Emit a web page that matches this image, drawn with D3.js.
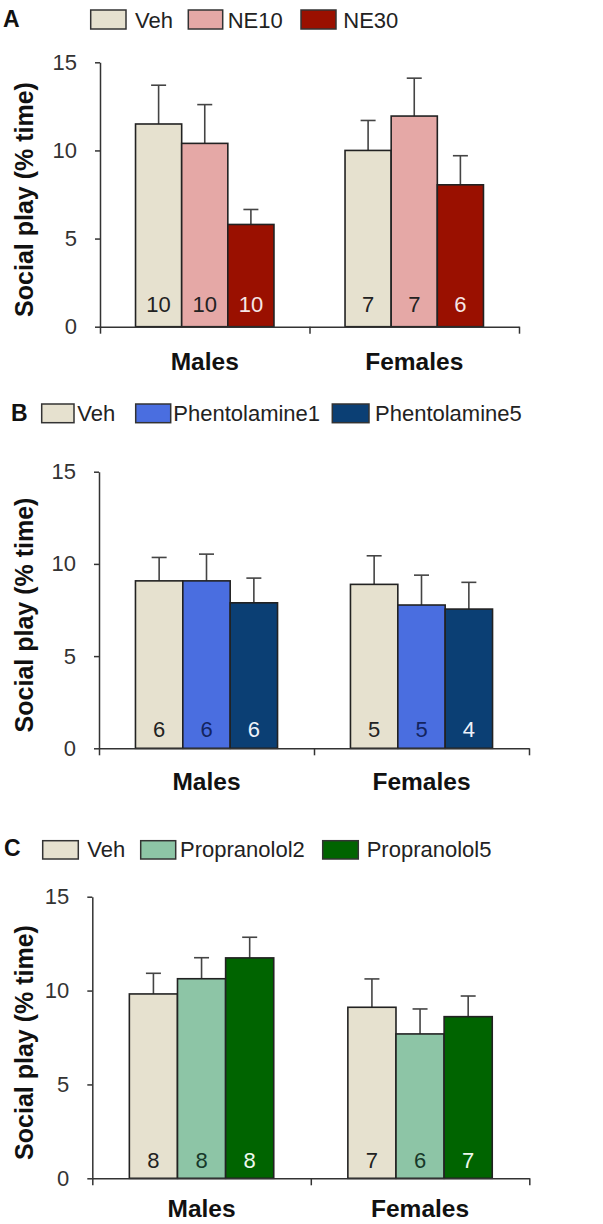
<!DOCTYPE html>
<html>
<head>
<meta charset="utf-8">
<script src="https://cdn.jsdelivr.net/npm/d3@7"></script>
<style>
  body { margin: 0; background: #fff; }
  svg { display: block; font-family: "Liberation Sans", Arial, sans-serif; }
</style>
</head>
<body>
<div id="chart"></div>
<script>
// ---- data ----
const groups = ["Males", "Females"];
const yTicks = [0, 5, 10, 15];

const seriesA = ["Veh", "NE10", "NE30"];
const meanA = [[11.5, 10.4, 5.8], [10.0, 11.95, 8.05]];
const semA = [[2.2, 2.2, 0.85], [1.7, 2.15, 1.65]];
const nA = [[10, 10, 10], [7, 7, 6]];

const seriesB = ["Veh", "Phentolamine1", "Phentolamine5"];
const meanB = [[9.08, 9.08, 7.89], [8.89, 7.77, 7.55]];
const semB = [[1.27, 1.45, 1.34], [1.55, 1.62, 1.45]];
const nB = [[6, 6, 6], [5, 5, 4]];

const seriesC = ["Veh", "Propranolol2", "Propranolol5"];
const meanC = [[9.82, 10.63, 11.74], [9.11, 7.69, 8.61]];
const semC = [[1.1, 1.12, 1.1], [1.51, 1.33, 1.1]];
const nC = [[8, 8, 8], [7, 6, 7]];

// ---- layout / styles per panel ----
const panels = [
  { letter: "A", series: seriesA, mean: meanA, sem: semA, n: nA,
    fills: ["#e6e1cf", "#e5a8a6", "#9a1000"], countFill: ["#222", "#222", "#f6e6e6"],
    x0: 100, x1: 519, yTop: 62.3, y0: 326.7, countOff: 15, grpOff: 43,
    letterX: 3, letterY: 27, legY: 10, legH: 19, legBase: 27.5,
    boxX: [90.7, 188.3, 301], boxW: [35.3, 34.4, 35], textX: [135, 227.7, 343.3] },
  { letter: "B", series: seriesB, mean: meanB, sem: semB, n: nB,
    fills: ["#e6e1cf", "#4a6ee0", "#0b3f74"], countFill: ["#222", "#13245e", "#eef2fa"],
    x0: 99, x1: 529, yTop: 471.7, y0: 748.3, countOff: 11.5, grpOff: 42,
    letterX: 11, letterY: 421, legY: 404, legH: 18.7, legBase: 421,
    boxX: [41.7, 135.7, 332.3], boxW: [32.3, 35, 36.7], textX: [77.3, 173.3, 375] },
  { letter: "C", series: seriesC, mean: meanC, sem: semC, n: nC,
    fills: ["#e6e1cf", "#8dc5a6", "#006400"], countFill: ["#222", "#17382a", "#eef8ee"],
    x0: 92.3, x1: 529.3, yTop: 896.7, y0: 1178.3, countOff: 10.5, grpOff: 39,
    letterX: 4, letterY: 856, legY: 840.7, legH: 18.3, legBase: 857,
    boxX: [42.7, 140.7, 322.7], boxW: [35.6, 35, 35.6], textX: [87.3, 180, 366.7] }
];

const W = 603, H = 1224;
const svg = d3.select("#chart").append("svg")
  .attr("width", W)
  .attr("height", H);

panels.forEach(function(p) {
  const g = svg.append("g");

  // scales
  const x = d3.scaleBand().domain(groups).range([p.x0, p.x1]).padding(0);
  const xs = d3.scaleBand().domain(p.series).range([0, x.bandwidth()])
    .paddingInner(0).paddingOuter(0.77);
  const y = d3.scaleLinear().domain([0, 15]).range([p.y0, p.yTop]);

  // panel letter
  g.append("text")
    .attr("x", p.letterX)
    .attr("y", p.letterY)
    .style("font-size", "23px")
    .style("font-weight", "bold")
    .attr("fill", "#111")
    .text(p.letter);

  // legend
  const leg = g.selectAll(".legend-item")
    .data(p.series)
    .enter()
    .append("g")
    .attr("class", "legend-item");

  leg.append("rect")
    .attr("x", (d, i) => p.boxX[i])
    .attr("y", p.legY)
    .attr("width", (d, i) => p.boxW[i])
    .attr("height", p.legH)
    .attr("fill", (d, i) => p.fills[i])
    .attr("stroke", "#333")
    .attr("stroke-width", 1.5);

  leg.append("text")
    .attr("x", (d, i) => p.textX[i])
    .attr("y", p.legBase)
    .style("font-size", "22px")
    .attr("fill", "#222")
    .text(d => d);

  // bars
  const rows = [];
  groups.forEach(function(grp, gi) {
    p.series.forEach(function(s, si) {
      rows.push({ grp: grp, s: s, si: si, mean: p.mean[gi][si], sem: p.sem[gi][si], n: p.n[gi][si] });
    });
  });

  const bx = d => x(d.grp) + xs(d.s);

  // error bars (behind bars)
  g.append("g").selectAll("line.err")
    .data(rows)
    .enter()
    .append("line")
    .attr("x1", d => bx(d) + xs.bandwidth() / 2)
    .attr("x2", d => bx(d) + xs.bandwidth() / 2)
    .attr("y1", d => y(d.mean))
    .attr("y2", d => y(d.mean + d.sem))
    .attr("stroke", "#444")
    .attr("stroke-width", 1.6);

  g.append("g").selectAll("line.cap")
    .data(rows)
    .enter()
    .append("line")
    .attr("x1", d => bx(d) + xs.bandwidth() / 2 - 7.5)
    .attr("x2", d => bx(d) + xs.bandwidth() / 2 + 7.5)
    .attr("y1", d => y(d.mean + d.sem))
    .attr("y2", d => y(d.mean + d.sem))
    .attr("stroke", "#444")
    .attr("stroke-width", 1.6);

  g.append("g").selectAll("rect")
    .data(rows)
    .enter()
    .append("rect")
    .attr("x", bx)
    .attr("y", d => y(d.mean))
    .attr("width", xs.bandwidth())
    .attr("height", d => y(0) - y(d.mean))
    .attr("fill", d => p.fills[d.si])
    .attr("stroke", "#222")
    .attr("stroke-width", 1.6);

  // n labels inside bars
  g.append("g").selectAll("text")
    .data(rows)
    .enter()
    .append("text")
    .attr("x", d => bx(d) + xs.bandwidth() / 2)
    .attr("y", p.y0 - p.countOff)
    .attr("text-anchor", "middle")
    .style("font-size", "22px")
    .attr("fill", d => p.countFill[d.si])
    .text(d => d.n);

  // y axis
  const yAxis = g.append("g")
    .attr("transform", "translate(" + p.x0 + ",0)")
    .call(d3.axisLeft(y).tickValues(yTicks).tickSize(5).tickSizeOuter(0).tickPadding(18));
  yAxis.select(".domain").attr("stroke", "#333").attr("stroke-width", 1.5);
  yAxis.selectAll(".tick line").attr("stroke", "#333").attr("stroke-width", 1.5);
  yAxis.selectAll(".tick text")
    .style("font-size", "22px")
    .style("font-family", "'Liberation Sans', Arial, sans-serif")
    .attr("fill", "#333");

  // x axis with ticks at the group boundaries
  const xb = d3.scaleLinear().domain([0, groups.length]).range([p.x0, p.x1]);
  const xAxis = g.append("g")
    .attr("transform", "translate(0," + p.y0 + ")")
    .call(d3.axisBottom(xb).tickValues(d3.range(groups.length + 1)).tickSize(7).tickSizeOuter(0).tickFormat(""));
  xAxis.select(".domain").attr("stroke", "#333").attr("stroke-width", 1.5);
  xAxis.selectAll(".tick line").attr("stroke", "#333").attr("stroke-width", 1.5);

  // group labels
  g.selectAll(".grp-label")
    .data(groups)
    .enter()
    .append("text")
    .attr("class", "grp-label")
    .attr("x", d => x(d) + x.bandwidth() / 2)
    .attr("y", p.y0 + p.grpOff)
    .attr("text-anchor", "middle")
    .style("font-size", "24.5px")
    .style("font-weight", "bold")
    .attr("fill", "#111")
    .text(d => d);

  // y title
  g.append("text")
    .attr("transform", "translate(" + 24 + "," + ((p.y0 + p.yTop) / 2 + 5) + ") rotate(-90)")
    .attr("text-anchor", "middle")
    .attr("dy", "0.35em")
    .style("font-size", "25px")
    .style("font-weight", "bold")
    .attr("fill", "#111")
    .text("Social play (% time)");
});
</script>
</body>
</html>
